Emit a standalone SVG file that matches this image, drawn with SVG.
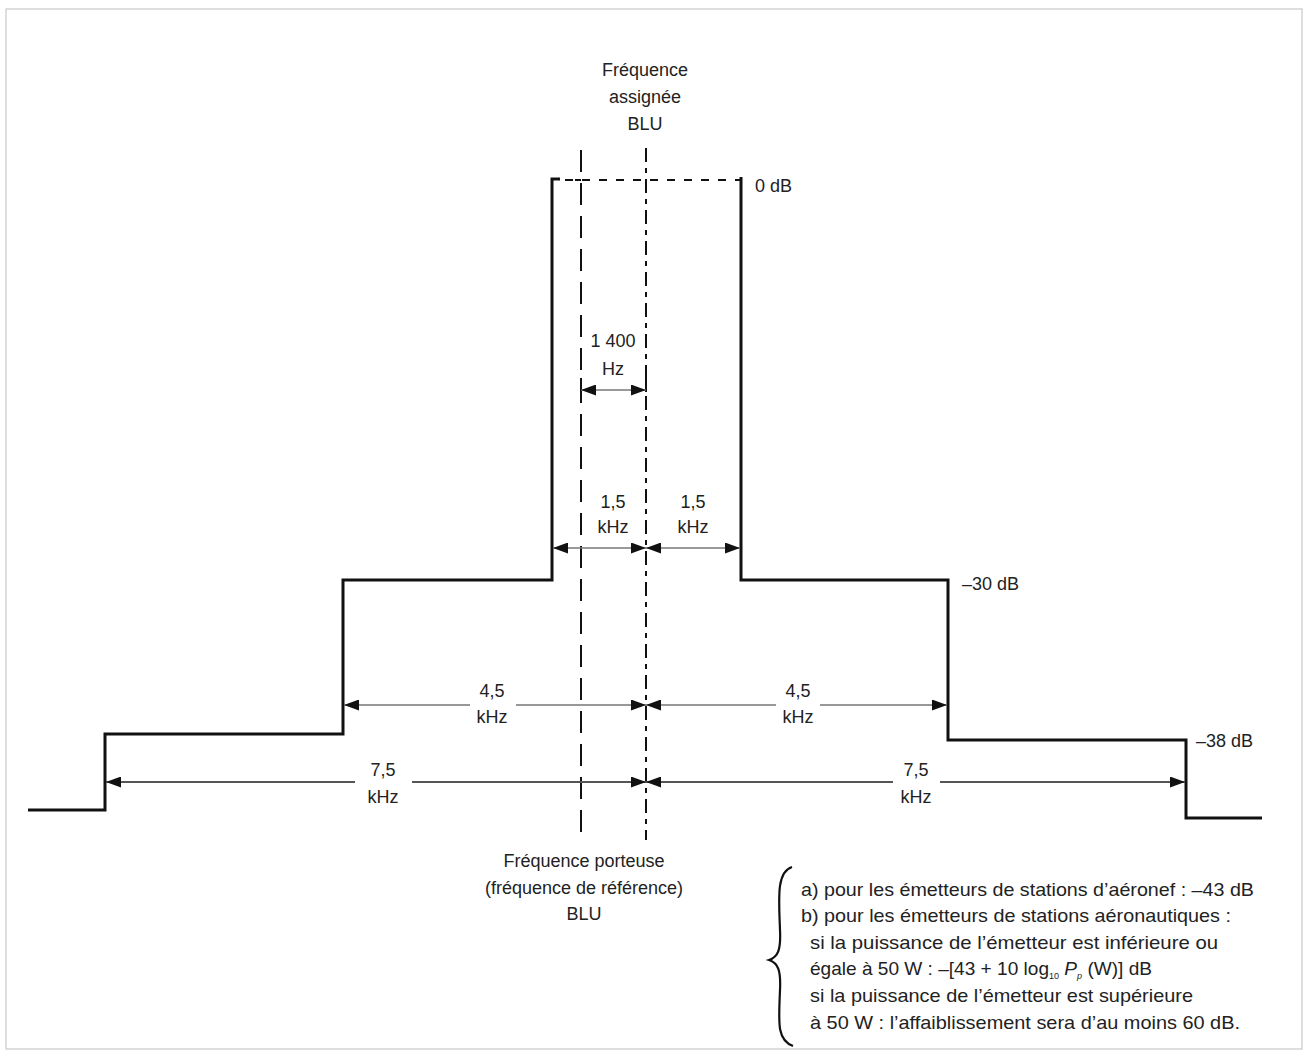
<svg xmlns="http://www.w3.org/2000/svg" width="1308" height="1055" viewBox="0 0 1308 1055">
<style>
text{font-family:"Liberation Sans",Arial,sans-serif;fill:#222;font-size:18px}
.c{text-anchor:middle}
.lg{font-size:19px}
.mask{fill:none;stroke:#111;stroke-width:3;stroke-linejoin:miter}
.dim{fill:none;stroke:#777;stroke-width:1.4}
.dash1{fill:none;stroke:#111;stroke-width:2;stroke-dasharray:22,11}
.dash2{fill:none;stroke:#111;stroke-width:2;stroke-dasharray:14,6,5,6}
.dash3{fill:none;stroke:#111;stroke-width:1.8;stroke-dasharray:8,9}
</style>
<defs>
<marker id="ah" viewBox="0 0 15 11" refX="15" refY="5.5" markerWidth="15" markerHeight="11" markerUnits="userSpaceOnUse" orient="auto-start-reverse">
<path d="M0,0 L15,5.5 L0,11 z" fill="#111"/>
</marker>
</defs>
<rect x="6" y="9" width="1296" height="1040" fill="#fff" stroke="#c8c8c8" stroke-width="1.2"/>
<g id="mask">
<path class="mask" d="M28,810 H105 V734 H343 V580 H552 V179 H560"/>
<path class="mask" d="M741,177 V580 H948 V740 H1186 V818 H1262"/>
</g>
<g id="reference-lines">
<path class="dash3" d="M565,180 H740"/>
<path class="dash1" d="M581,150 V836"/>
<path class="dash2" d="M646,148 V840"/>
<path d="M575,180 H581" stroke="#111" stroke-width="2"/>
<path d="M581,378 V392" stroke="#111" stroke-width="2"/>
<path d="M646,378 V392" stroke="#111" stroke-width="2"/>
</g>
<g id="connectors">
<path class="dim" d="M581,390 H646" marker-start="url(#ah)" marker-end="url(#ah)"/>
<path class="dim" d="M553,548 H646" marker-start="url(#ah)" marker-end="url(#ah)"/>
<path class="dim" d="M646,548 H740" marker-start="url(#ah)" marker-end="url(#ah)"/>
<path class="dim" d="M344,705 H470 M516,705 H646" marker-start="url(#ah)" marker-end="url(#ah)"/>
<path class="dim" d="M646,705 H776 M820,705 H947" marker-start="url(#ah)" marker-end="url(#ah)"/>
<path class="dim" d="M106,782 H355 M412,782 H646" style="stroke:#555;stroke-width:1.8" marker-start="url(#ah)" marker-end="url(#ah)"/>
<path class="dim" d="M646,782 H893 M940,782 H1185" style="stroke:#555;stroke-width:1.8" marker-start="url(#ah)" marker-end="url(#ah)"/>
</g>
<g id="label-assignee">
<text class="c" x="645" y="76">Fréquence</text>
<text class="c" x="645" y="103">assignée</text>
<text class="c" x="645" y="130">BLU</text>
</g>
<g id="label-levels">
<text x="755" y="192">0 dB</text>
<text x="962" y="590">–30 dB</text>
<text x="1196" y="747">–38 dB</text>
</g>
<g id="label-dims">
<text class="c" x="613" y="347">1 400</text>
<text class="c" x="613" y="375">Hz</text>
<text class="c" x="613" y="508">1,5</text>
<text class="c" x="613" y="533">kHz</text>
<text class="c" x="693" y="508">1,5</text>
<text class="c" x="693" y="533">kHz</text>
<text class="c" x="492" y="697">4,5</text>
<text class="c" x="492" y="723">kHz</text>
<text class="c" x="798" y="697">4,5</text>
<text class="c" x="798" y="723">kHz</text>
<text class="c" x="383" y="776">7,5</text>
<text class="c" x="383" y="803">kHz</text>
<text class="c" x="916" y="776">7,5</text>
<text class="c" x="916" y="803">kHz</text>
</g>
<g id="label-porteuse">
<text class="c" x="584" y="867">Fréquence porteuse</text>
<text class="c" x="584" y="894">(fréquence de référence)</text>
<text class="c" x="584" y="920">BLU</text>
</g>
<g id="legend">
<path d="M792,867 C776,872 779,900 780,930 C781,950 778,957 769,960 C778,963 781,970 780,990 C779,1020 776,1040 793,1046" fill="none" stroke="#111" stroke-width="2.2"/>
<text class="lg" x="801" y="896" textLength="453" lengthAdjust="spacingAndGlyphs">a) pour les émetteurs de stations d’aéronef : –43 dB</text>
<text class="lg" x="801" y="922" textLength="430" lengthAdjust="spacingAndGlyphs">b) pour les émetteurs de stations aéronautiques :</text>
<text class="lg" x="810" y="949" textLength="408" lengthAdjust="spacingAndGlyphs">si la puissance de l’émetteur est inférieure ou</text>
<text class="lg" x="810" y="975" textLength="342" lengthAdjust="spacingAndGlyphs">égale à 50 W : –[43 + 10 log<tspan font-size="9" dy="4">10</tspan><tspan dy="-4"> </tspan><tspan font-style="italic">P</tspan><tspan font-size="9" font-style="italic" dy="4">p</tspan><tspan dy="-4"> (W)] dB</tspan></text>
<text class="lg" x="810" y="1002" textLength="383" lengthAdjust="spacingAndGlyphs">si la puissance de l’émetteur est supérieure</text>
<text class="lg" x="810" y="1029" textLength="430" lengthAdjust="spacingAndGlyphs">à 50 W : l’affaiblissement sera d’au moins 60 dB.</text>
</g>
</svg>
